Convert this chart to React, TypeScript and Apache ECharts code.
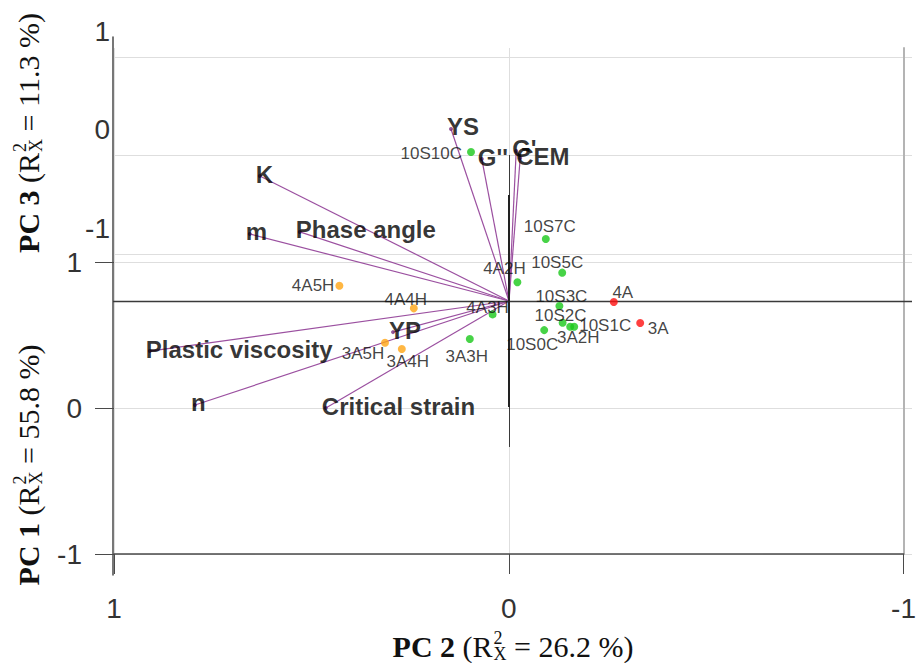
import React, { useEffect, useRef } from 'react';
import * as echarts from 'echarts';

// ---- Variable loadings (PC 2 horizontally, vertical biplot score axis) ----
const loadingNames = ['YS', "G''", "G'", 'CEM', 'K', 'm', 'Phase angle', 'Plastic viscosity', 'n', 'YP', 'Critical strain'];
const loadingPC2 = [0.145, 0.068, -0.018, -0.028, 0.623, 0.648, 0.523, 0.898, 0.785, 0.29, 0.458];
const loadingPCv = [0.68, 0.561, 0.593, 0.565, 0.494, 0.265, 0.273, -0.198, -0.411, -0.123, -0.423];

// ---- Sample scores ----
const greenNames = ['10S10C', '10S7C', '10S5C', '4A2H', '10S3C', '10S2C', '10S1C', '3A2H', '10S0C', '4A3H', '3A3H'];
const greenPC2 = [0.095, -0.092, -0.133, -0.021, -0.126, -0.134, -0.153, -0.163, -0.088, 0.041, 0.098];
const greenPCv = [0.589, 0.245, 0.112, 0.074, -0.02, -0.086, -0.102, -0.102, -0.115, -0.053, -0.15];

const orangeNames = ['4A5H', '4A4H', '3A5H', '3A4H'];
const orangePC2 = [0.424, 0.238, 0.31, 0.268];
const orangePCv = [0.06, -0.029, -0.165, -0.19];

const redNames = ['4A', '3A'];
const redPC2 = [-0.262, -0.328];
const redPCv = [-0.004, -0.087];

// ---- Axis tick values ----
const pcTickMin = -1;
const pcTickMax = 1;
const pcTickStep = 1;

// ---- Axis titles ----
const titlePC1 = { pc: '1', share: '55.8' };
const titlePC2 = { pc: '2', share: '26.2' };
const titlePC3 = { pc: '3', share: '11.3' };

// Where each sample label sits relative to its dot
const SAMPLE_LABEL_SPOT: Record<string, { position: string; offset: [number, number] }> = {
  '10S10C': { position: 'left', offset: [0, 2] },
  '10S7C': { position: 'inside', offset: [4, -13] },
  '10S5C': { position: 'inside', offset: [-5, -10] },
  '4A2H': { position: 'inside', offset: [-13, -14] },
  '10S3C': { position: 'inside', offset: [2, -10] },
  '10S2C': { position: 'inside', offset: [-2, -7] },
  '10S1C': { position: 'right', offset: [0, -1] },
  '3A2H': { position: 'inside', offset: [4, 11] },
  '10S0C': { position: 'inside', offset: [-12, 14] },
  '4A3H': { position: 'inside', offset: [-5, -7] },
  '3A3H': { position: 'inside', offset: [-3, 18] },
  '4A5H': { position: 'left', offset: [4, 0] },
  '4A4H': { position: 'inside', offset: [-8, -9] },
  '3A5H': { position: 'inside', offset: [-22, 11] },
  '3A4H': { position: 'inside', offset: [6, 12] },
  '4A': { position: 'inside', offset: [9, -10] },
  '3A': { position: 'inside', offset: [18, 5] },
};

const SANS = "'Liberation Sans', Arial, Helvetica, sans-serif";
const SERIF = "'Liberation Serif', 'Times New Roman', Times, serif";
const AXIS_DARK = '#4a4a4a';
const GRID_LIGHT = '#dedede';
const TICK_TEXT = '#333333';
const LOADING_LINE = '#9b50a0';

function textWidth(ctx: CanvasRenderingContext2D, text: string, font: string) {
  ctx.font = font;
  return ctx.measureText(text).width;
}

// "PC n (R²ₓ = xx %)" with the 2 and X stacked
function axisTitle(ctx: CanvasRenderingContext2D, pc: string, share: string, cx: number, cy: number, vertical: boolean) {
  const big = 30;
  const small = 18;
  const fBold = `bold ${big}px ${SERIF}`;
  const fReg = `${big}px ${SERIF}`;
  const fSmall = `${small}px ${SERIF}`;
  const head = `PC ${pc} `;
  const open = '(R';
  const tail = ` = ${share} %)`;
  const wHead = textWidth(ctx, head, fBold);
  const wOpen = textWidth(ctx, open, fReg);
  const wStack = Math.max(textWidth(ctx, '2', fSmall), textWidth(ctx, 'X', fSmall));
  const wTail = textWidth(ctx, tail, fReg);
  const total = wHead + wOpen + 1 + wStack + wTail;
  const mk = (text: string, font: string, x: number, y: number) => ({
    type: 'text',
    x,
    y,
    style: { text, font, fill: '#111', textAlign: 'left', textVerticalAlign: 'middle', verticalAlign: 'middle' },
  });
  const children = [
    mk(head, fBold, 0, 0),
    mk(open, fReg, wHead, 0),
    mk('2', fSmall, wHead + wOpen + 1, -8),
    mk('X', fSmall, wHead + wOpen + 1, 8),
    mk(tail, fReg, wHead + wOpen + 1 + wStack, 0),
  ];
  return vertical
    ? { type: 'group', x: cx, y: cy + total / 2, rotation: Math.PI / 2, children }
    : { type: 'group', x: cx - total / 2, y: cy, children };
}

function sampleSeries(name: string, color: string, names: string[], xs: number[], ys: number[]) {
  return {
    name,
    type: 'scatter',
    xAxisIndex: 4,
    yAxisIndex: 4,
    symbol: 'circle',
    symbolSize: 8,
    clip: false,
    itemStyle: { color },
    z: 5,
    label: {
      show: true,
      formatter: '{b}',
      fontFamily: SANS,
      fontSize: 17,
      color: '#111',
      distance: 5,
    },
    data: names.map((n, i) => {
      const spot = SAMPLE_LABEL_SPOT[n];
      return {
        name: n,
        value: [xs[i], ys[i]],
        label: spot ? { position: spot.position, offset: spot.offset } : undefined,
      };
    }),
  };
}

export default function App() {
  const ref = useRef<HTMLDivElement>(null);

  useEffect(() => {
    if (!ref.current) return;
    const chart = echarts.init(ref.current, undefined, { renderer: 'svg' });
    const ctx = document.createElement('canvas').getContext('2d') as CanvasRenderingContext2D;

    const hiddenX = (gridIndex: number) => ({ gridIndex, type: 'value', min: pcTickMin, max: pcTickMax, show: false });

    const option: any = {
      animation: false,
      backgroundColor: '#ffffff',
      grid: [
        { left: 114, top: 48, width: 798, height: 506 }, // PC 2 axis + vertical grid lines
        { left: 114, top: 262, width: 798, height: 292 }, // PC 1 axis
        { left: 114, top: 57, width: 798, height: 197 }, // PC 3 grid lines
        { left: 113, top: 37, width: 799, height: 538 }, // left frame line
        { left: 113, top: 48, width: 799, height: 506 }, // biplot
        { left: 114, top: 31, width: 798, height: 197 }, // PC 3 tick labels (raised above their lines)
      ],
      xAxis: [
        {
          gridIndex: 0,
          type: 'value',
          min: pcTickMin,
          max: pcTickMax,
          interval: pcTickStep,
          inverse: true,
          axisLine: { show: true, onZero: false, lineStyle: { color: AXIS_DARK, width: 1.5 } },
          axisTick: { show: true, length: 20, lineStyle: { color: AXIS_DARK, width: 1 } },
          axisLabel: { fontFamily: SANS, fontSize: 28, color: TICK_TEXT, margin: 40 },
          splitLine: { show: true, lineStyle: { color: GRID_LIGHT, width: 1 } },
        },
        hiddenX(1),
        hiddenX(2),
        hiddenX(3),
        { gridIndex: 4, type: 'value', min: -1.0075, max: 0.99, inverse: true, show: false },
        hiddenX(5),
      ],
      yAxis: [
        {
          gridIndex: 0,
          type: 'value',
          min: pcTickMin,
          max: pcTickMax,
          position: 'right',
          axisLine: { show: true, onZero: false, lineStyle: { color: '#b4b4b4', width: 2 } },
          axisTick: { show: false },
          axisLabel: { show: false },
          splitLine: { show: false },
        },
        {
          gridIndex: 1,
          type: 'value',
          min: pcTickMin,
          max: pcTickMax,
          interval: pcTickStep,
          axisLine: { show: false, onZero: false },
          axisTick: { show: true, length: 19, lineStyle: { color: AXIS_DARK, width: 1 } },
          axisLabel: { fontFamily: SANS, fontSize: 28, color: TICK_TEXT, margin: 32 },
          splitLine: { show: true, lineStyle: { color: GRID_LIGHT, width: 1 } },
        },
        {
          gridIndex: 2,
          type: 'value',
          min: pcTickMin,
          max: pcTickMax,
          interval: pcTickStep,
          axisLine: { show: false, onZero: false },
          axisTick: { show: false },
          axisLabel: { show: false },
          splitLine: { show: true, lineStyle: { color: GRID_LIGHT, width: 1 } },
        },
        {
          gridIndex: 3,
          type: 'value',
          min: 0,
          max: 1,
          axisLine: { show: true, onZero: false, lineStyle: { color: AXIS_DARK, width: 1.5 } },
          axisTick: { show: false },
          axisLabel: { show: false },
          splitLine: { show: false },
        },
        { gridIndex: 4, type: 'value', min: -1, max: 1, show: false },
        {
          gridIndex: 5,
          type: 'value',
          min: pcTickMin,
          max: pcTickMax,
          interval: pcTickStep,
          axisLine: { show: false, onZero: false },
          axisTick: { show: false },
          axisLabel: { fontFamily: SANS, fontSize: 28, color: TICK_TEXT, margin: 4 },
          splitLine: { show: false },
        },
      ],
      graphic: [
        axisTitle(ctx, titlePC2.pc, titlePC2.share, 513, 646, false),
        axisTitle(ctx, titlePC3.pc, titlePC3.share, 28, 133, true),
        axisTitle(ctx, titlePC1.pc, titlePC1.share, 28, 465, true),
      ],
      series: [
        {
          name: 'loading vectors',
          type: 'lines',
          coordinateSystem: 'cartesian2d',
          xAxisIndex: 4,
          yAxisIndex: 4,
          polyline: false,
          silent: true,
          z: 3,
          lineStyle: { color: LOADING_LINE, width: 1.2, opacity: 1 },
          data: loadingNames.map((n, i) => ({ name: n, coords: [[0, 0], [loadingPC2[i], loadingPCv[i]]] })),
        },
        {
          name: 'loadings',
          type: 'scatter',
          xAxisIndex: 4,
          yAxisIndex: 4,
          symbol: 'circle',
          symbolSize: 4,
          clip: false,
          z: 4,
          itemStyle: { color: '#7a2f80' },
          label: {
            show: true,
            formatter: '{b}',
            position: 'right',
            distance: 0,
            offset: [-6, -2],
            fontFamily: SANS,
            fontWeight: 'bold',
            fontSize: 24,
            color: '#000',
          },
          markLine: {
            silent: true,
            symbol: 'none',
            label: { show: false },
            lineStyle: { color: '#333', width: 1.2, type: 'solid' },
            data: [
              { yAxis: 0, lineStyle: { color: '#3a3a3a', width: 1.3, type: 'solid' } },
              [
                { coord: [0, 0.577], lineStyle: { color: '#3a3a3a', width: 1, type: 'solid' } },
                { coord: [0, -0.577] },
              ],
              [
                { coord: [0, 0.419], lineStyle: { color: '#222', width: 2, type: 'solid' } },
                { coord: [0, -0.419] },
              ],
            ],
          },
          data: loadingNames.map((n, i) => ({ name: n, value: [loadingPC2[i], loadingPCv[i]] })),
        },
        sampleSeries('green samples', '#19c819', greenNames, greenPC2, greenPCv),
        sampleSeries('orange samples', '#ffa514', orangeNames, orangePC2, orangePCv),
        sampleSeries('red samples', '#ff1010', redNames, redPC2, redPCv),
      ],
    };

    chart.setOption(option);
    return () => chart.dispose();
  }, []);

  return (
    <div
      ref={ref}
      style={{ position: 'fixed', left: 0, top: 0, width: 919, height: 663, background: '#fff' }}
    />
  );
}
